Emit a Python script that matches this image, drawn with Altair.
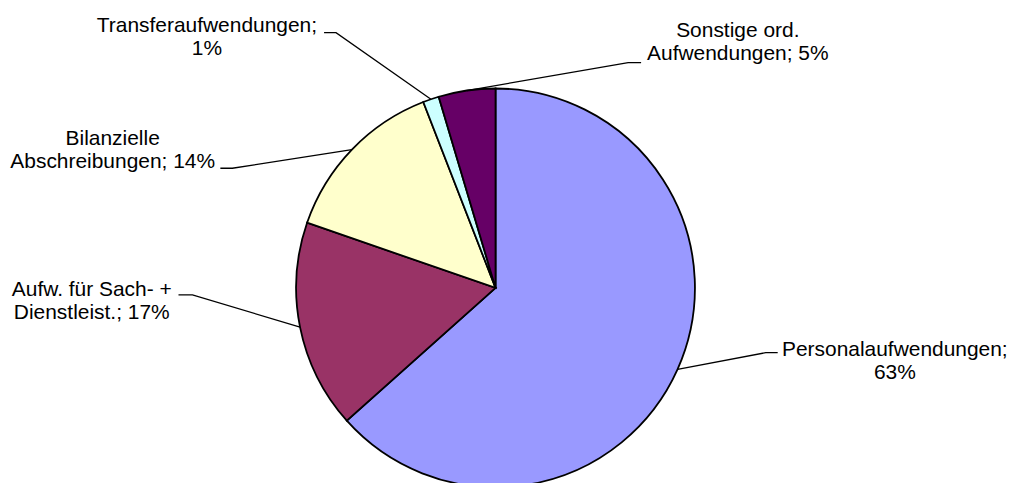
import altair as alt
import numpy as np
import pandas as pd

# ---- data ----
categories = [
    "Personalaufwendungen",
    "Aufw. für Sach- + Dienstleist.",
    "Bilanzielle Abschreibungen",
    "Transferaufwendungen",
    "Sonstige ord. Aufwendungen",
]
values = [63.4, 16.9, 13.8, 1.3, 4.6]
label_texts = [
    "Personalaufwendungen;\n63%",
    "Aufw. für Sach- +\nDienstleist.; 17%",
    "Bilanzielle\nAbschreibungen; 14%",
    "Transferaufwendungen;\n1%",
    "Sonstige ord.\nAufwendungen; 5%",
]
colors = ["#9999FF", "#993366", "#FFFFCC", "#CCFFFF", "#660066"]

# ---- layout (pixels in the chart area) ----
W, H = 1000, 467
CX, CY, R = 489, 280, 200
# label anchor (centre x, first-line baseline y)
label_x = [889.5, 84, 105, 199.5, 732]
label_y = [348.7, 288.5, 137, 23.7, 28.7]
# leader line elbow and stub end
elbow_x = [760, 185, 225, 329, 622]
elbow_y = [345, 287, 160, 24, 54]
stub_x = [772, 171, 213, 317, 635]
stub_y = [345, 287, 160, 24, 54]

df = pd.DataFrame({"cat": categories, "value": values, "idx": range(len(values))})

vals = np.array(values, dtype=float)
cum = np.cumsum(vals) - vals / 2.0
mid = cum / vals.sum() * 2 * np.pi
arc_x = CX + R * np.sin(mid)
arc_y = CY - R * np.cos(mid)

rows = []
for i, c in enumerate(categories):
    rows.append({"cat": c, "pt": 0, "px": arc_x[i], "py": arc_y[i]})
    rows.append({"cat": c, "pt": 1, "px": elbow_x[i], "py": elbow_y[i]})
    rows.append({"cat": c, "pt": 2, "px": stub_x[i], "py": stub_y[i]})
lines_df = pd.DataFrame(rows)

text_df = pd.DataFrame({"cat": categories, "txt": label_texts, "px": label_x, "py": label_y})

xs = alt.Scale(domain=[0, W], nice=False, zero=False)
ys = alt.Scale(domain=[0, H], nice=False, zero=False, reverse=True)

pie = alt.Chart(df).mark_arc(radius=R, stroke="black", strokeWidth=1.8).encode(
    theta=alt.Theta("value:Q", stack=True),
    order=alt.Order("idx:Q"),
    color=alt.Color("cat:N", scale=alt.Scale(domain=categories, range=colors), legend=None),
    x=alt.value(CX),
    y=alt.value(CY),
)

leaders = alt.Chart(lines_df).mark_line(color="black", strokeWidth=1.3).encode(
    x=alt.X("px:Q", scale=xs, axis=None),
    y=alt.Y("py:Q", scale=ys, axis=None),
    detail="cat:N",
    order="pt:Q",
)

labels = alt.Chart(text_df).mark_text(
    font="Liberation Sans", fontSize=21, align="center", baseline="alphabetic",
    lineBreak="\n", lineHeight=22.5, color="black",
).encode(
    x=alt.X("px:Q", scale=xs, axis=None),
    y=alt.Y("py:Q", scale=ys, axis=None),
    text="txt:N",
)

chart = alt.layer(pie, leaders, labels).properties(
    width=W, height=H, padding=0
).configure_view(stroke=None)

chart.save("out.html", embed_options={"renderer": "svg", "actions": False})
